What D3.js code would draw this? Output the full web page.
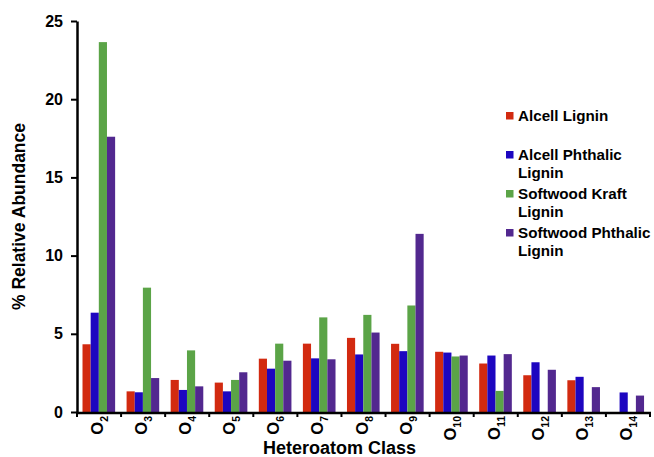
<!DOCTYPE html>
<html>
<head>
<meta charset="utf-8">
<script src="https://cdn.jsdelivr.net/npm/d3@7/dist/d3.min.js"></script>
<style>
  body { margin: 0; background: #fff; }
  svg { display: block; font-family: "Liberation Sans", Arial, sans-serif; font-weight: bold; }
</style>
</head>
<body>
<div id="chart"></div>
<script>
// heteroatom classes O2..O14 (subscript numbers)
let classes = ["2", "3", "4", "5", "6", "7", "8", "9", "10", "11", "12", "13", "14"];
let seriesNames = ["Alcell Lignin", "Alcell Phthalic Lignin", "Softwood Kraft Lignin", "Softwood Phthalic Lignin"];
let legendLines = [["Alcell Lignin"], ["Alcell Phthalic", "Lignin"], ["Softwood Kraft", "Lignin"], ["Softwood Phthalic", "Lignin"]];
let colors = ["#d22a10", "#1d06c0", "#5ba447", "#52288f"];

let alcell          = [4.33, 1.32, 2.05, 1.88, 3.41, 4.37, 4.74, 4.36, 3.85, 3.10, 2.35, 2.03, 0];
let alcellPhthalic  = [6.35, 1.26, 1.41, 1.32, 2.77, 3.43, 3.68, 3.89, 3.80, 3.61, 3.18, 2.25, 1.25];
let softwoodKraft   = [23.65, 7.95, 3.94, 2.05, 4.37, 6.05, 6.21, 6.81, 3.55, 1.35, 0, 0, 0];
let softwoodPhthalic = [17.6, 2.17, 1.64, 2.54, 3.28, 3.37, 5.08, 11.39, 3.61, 3.70, 2.70, 1.59, 1.05];
let yTicks = [0, 5, 10, 15, 20, 25];

let values = [alcell, alcellPhthalic, softwoodKraft, softwoodPhthalic];

let width = 654, height = 457;
let mLeft = 77, mRight = 650, mTop = 21, mBottom = 412;

let svg = d3.select("#chart").append("svg")
    .attr("width", width)
    .attr("height", height);

let x0 = d3.scaleBand().domain(classes).range([mLeft, mRight]).padding(0);
let bw = x0.bandwidth();
let x1 = d3.scaleBand().domain(seriesNames).range([bw * 0.125, bw * 0.865]).padding(0);
let y = d3.scaleLinear().domain([0, 25]).range([mBottom, mTop]);

// bars
let groups = svg.append("g").selectAll("g")
    .data(classes)
    .enter()
    .append("g")
    .attr("transform", d => `translate(${x0(d)},0)`);

groups.selectAll("rect")
    .data((d, i) => seriesNames.map((s, j) => ({ s: s, j: j, v: values[j][i] })).filter(e => e.v > 0))
    .enter()
    .append("rect")
    .attr("x", d => x1(d.s))
    .attr("width", x1.bandwidth())
    .attr("y", d => y(d.v))
    .attr("height", d => y(0) - y(d.v))
    .attr("fill", d => colors[d.j]);

// y axis
let yAxis = svg.append("g")
    .attr("transform", `translate(${mLeft},0)`)
    .call(d3.axisLeft(y).tickValues(yTicks).tickSize(6).tickPadding(8).tickSizeOuter(0));
yAxis.select(".domain").attr("stroke", "#000").attr("stroke-width", 2.5);
yAxis.selectAll(".tick line").attr("stroke", "#000").attr("stroke-width", 2);
yAxis.selectAll(".tick text")
    .attr("font-size", 16)
    .attr("font-weight", "bold")
    .attr("font-family", "Liberation Sans, Arial, sans-serif")
    .attr("fill", "#000");

// x axis: ticks at category boundaries
let xAxis = svg.append("g");
xAxis.append("line")
    .attr("x1", mLeft - 1).attr("x2", mRight + 1)
    .attr("y1", y(0) + 1).attr("y2", y(0) + 1)
    .attr("stroke", "#000").attr("stroke-width", 2.5);
xAxis.selectAll("line.tick")
    .data(classes.concat(["end"]))
    .enter()
    .append("line")
    .attr("class", "tick")
    .attr("x1", (d, i) => i < classes.length ? x0(d) : mRight)
    .attr("x2", (d, i) => i < classes.length ? x0(d) : mRight)
    .attr("y1", y(0) + 1)
    .attr("y2", y(0) + 5)
    .attr("stroke", "#000").attr("stroke-width", 2);

// rotated O_n labels, subscript dropped below the O
let labels = xAxis.selectAll("text.cls")
    .data(classes)
    .enter()
    .append("text")
    .attr("class", "cls")
    .attr("transform", d => `translate(${x0(d) + bw / 2 + 4},${y(0) + 4}) rotate(-90)`)
    .attr("text-anchor", "end");
labels.append("tspan").attr("font-size", 16.5).text("O");
labels.append("tspan")
    .attr("font-size", 10.5)
    .attr("dy", 5)
    .text(d => d);

// axis titles
svg.append("text")
    .attr("x", (mLeft + mRight) / 2 - 24)
    .attr("y", 454)
    .attr("text-anchor", "middle")
    .attr("font-size", 18)
    .text("Heteroatom Class");

svg.append("text")
    .attr("transform", `translate(25,${(mTop + mBottom) / 2}) rotate(-90)`)
    .attr("text-anchor", "middle")
    .attr("font-size", 17.5)
    .text("% Relative Abundance");

// legend
let legend = svg.append("g")
    .selectAll("g")
    .data(seriesNames)
    .enter()
    .append("g")
    .attr("transform", (d, i) => `translate(506,${121 + i * 39})`);

legend.append("rect")
    .attr("x", 0)
    .attr("y", -9)
    .attr("width", 7.5)
    .attr("height", 7.5)
    .attr("fill", (d, i) => colors[i]);

legend.append("text")
    .attr("x", 12)
    .attr("font-size", 15.2)
    .selectAll("tspan")
    .data((d, i) => legendLines[i])
    .enter()
    .append("tspan")
    .attr("x", 12)
    .attr("dy", (d, i) => i ? 17.5 : 0)
    .text(d => d);
</script>
</body>
</html>
